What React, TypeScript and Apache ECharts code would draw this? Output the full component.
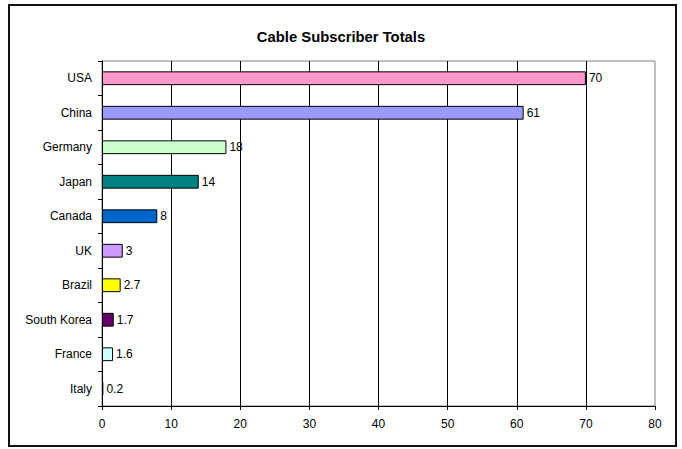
import React, { useEffect, useRef } from "react";
import * as echarts from "echarts";

const categories = ["USA", "China", "Germany", "Japan", "Canada", "UK", "Brazil", "South Korea", "France", "Italy"];
const values = [70, 61, 18, 14, 8, 3, 2.7, 1.7, 1.6, 0.2];
const colors = ["#FF99CC", "#9999FF", "#CCFFCC", "#008080", "#0066CC", "#CC99FF", "#FFFF00", "#660066", "#CCFFFF", "#333333"];
const title = "Cable Subscriber Totals";

export default function App() {
  const ref = useRef<HTMLDivElement>(null);
  useEffect(() => {
    if (!ref.current) return;
    const chart = echarts.init(ref.current, null, { renderer: "svg" });
    const font = "Arial, 'Liberation Sans', sans-serif";
    chart.setOption({
      animation: false,
      backgroundColor: "#ffffff",
      textStyle: { fontFamily: font },
      title: {
        text: title,
        left: "center",
        top: 24,
        textStyle: { fontFamily: font, fontSize: 14.8, fontWeight: "bold", color: "#000" },
      },
      graphic: [
        {
          type: "rect",
          shape: { x: 9, y: 5, width: 667, height: 441 },
          style: { fill: "none", stroke: "#111", lineWidth: 2 },
          silent: true,
          z: -1,
        },
      ],
      grid: {
        left: 102,
        right: 27,
        top: 61,
        bottom: 43,
        show: true,
        borderColor: "#808080",
        borderWidth: 1,
        containLabel: false,
      },
      xAxis: {
        type: "value",
        min: 0,
        max: 80,
        interval: 10,
        axisLine: { show: true, lineStyle: { color: "#000", width: 1 } },
        axisTick: { show: true, length: 4, lineStyle: { color: "#000" } },
        axisLabel: { color: "#000", fontSize: 12, fontFamily: font, margin: 12 },
        splitLine: { show: true, showMinLine: false, showMaxLine: false, lineStyle: { color: "#000", width: 1 } },
      },
      yAxis: {
        type: "category",
        data: categories,
        inverse: true,
        axisLine: { show: true, onZero: false, lineStyle: { color: "#000", width: 1 } },
        axisTick: { show: true, length: 4, alignWithLabel: false, lineStyle: { color: "#000" } },
        axisLabel: { color: "#000", fontSize: 12, fontFamily: font, margin: 10 },
        splitLine: { show: false },
      },
      series: [
        {
          type: "bar",
          data: values.map((v, i) => ({ value: v, itemStyle: { color: colors[i] } })),
          barWidth: "40%",
          itemStyle: { borderColor: "#000", borderWidth: 1 },
          label: {
            show: true,
            position: "right",
            distance: 3,
            color: "#000",
            fontSize: 12,
            fontFamily: font,
          },
        },
      ],
    });
    return () => chart.dispose();
  }, []);
  return <div ref={ref} style={{ position: "fixed", left: 0, top: 0, width: 682, height: 449 }} />;
}
